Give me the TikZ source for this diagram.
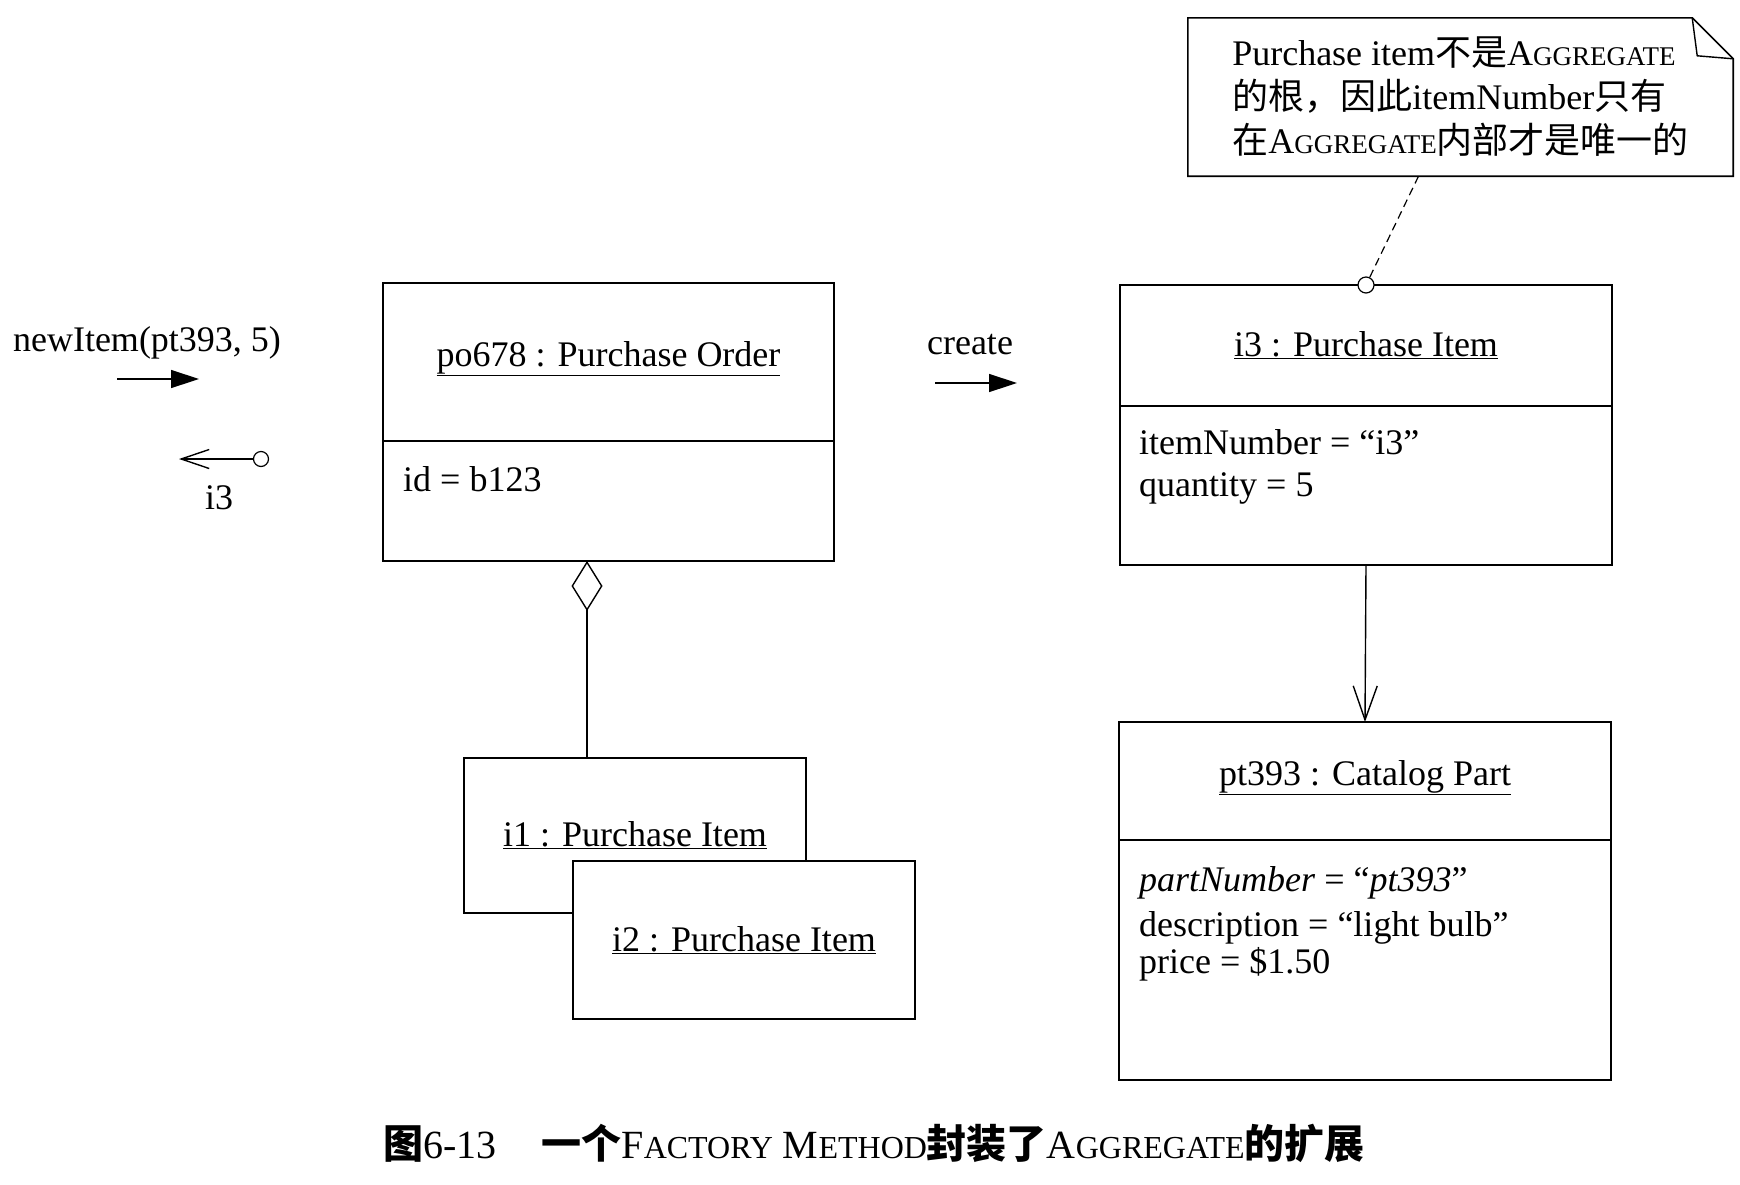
\documentclass[tikz,border=0pt]{standalone}
\usepackage{fontspec}
\setmainfont{Liberation Serif}
\newfontfamily\cjk{Noto Sans CJK SC}
\usepackage{tikz}
\usetikzlibrary{positioning, arrows.meta}
\newcommand\capsw[3][27]{#2{\fontsize{#1}{#1}\selectfont #3}}

\tikzset{
  objbox/.style={draw, line width=1.8pt, outer sep=0pt, fill=white, inner sep=0pt},
  attrtext/.style={anchor=north west, align=left, inner sep=0pt},
  msgarrow/.style={-{Triangle[length=28pt,width=18pt]}, line width=1.4pt},
  openarrow/.style={-{Straight Barb[length=#1]}, line width=1.4pt}
}

\begin{document}
\begin{tikzpicture}[x=1pt, y=-1pt, every node/.style={font=\fontsize{36}{45}\selectfont}]
        \useasboundingbox (0,0) rectangle (1740,1184);

        \node[objbox, minimum width=451, minimum height=158] (po) at (608.5,362) {\raisebox{-4pt}[0pt][0pt]{\underline{po678 : Purchase Order}}};
        \node[objbox, minimum width=451, minimum height=120, below=0pt of po] (poattr) {};
        \node[attrtext] (poid) at ([xshift=20,yshift=-25]poattr.north west) {id = b123};

        \node[objbox, minimum width=492, minimum height=121] (i3) at (1366,345.5) {\underline{i3 : Purchase Item}};
        \node[objbox, minimum width=492, minimum height=159, below=0pt of i3] (i3attr) {};
        \node[attrtext] (i3vals) at ([xshift=19,yshift=-23]i3attr.north west) {itemNumber = “i3”\\[-3pt]quantity = 5};

        \node[objbox, minimum width=492, minimum height=118] (pt) at (1365,781) {\raisebox{-4pt}[0pt][0pt]{\underline{pt393 : Catalog Part}}};
        \node[objbox, minimum width=492, minimum height=240, below=0pt of pt] (ptattr) {};
        \node[attrtext] (ptvals) at ([xshift=20,yshift=-26]ptattr.north west)
            {\textit{partNumber} = “\textit{pt393}”\\description = “light bulb”\\[-8pt]price = \$1.50};

        \node[objbox, minimum width=342, minimum height=155] (i1) at (635,835.5) {\underline{i1 : Purchase Item}};
        \node[objbox, minimum width=342, minimum height=158] (i2) at (744,940) {\underline{i2 : Purchase Item}};

        \coordinate (aggx) at ([xshift=-48]i1.north);
        \draw[{Diamond[open,length=50pt,width=31pt]}-, line width=1.4pt] (aggx |- poattr.south) -- (aggx);

        \draw[openarrow={34pt,width=24pt}] (i3attr.south) -- (pt.north);

        \node[align=left, minimum width=545, minimum height=158, inner sep=0pt, font=\fontsize{36}{44}\selectfont] (note) at (1460.5,97)
            {Purchase item{\cjk 不是}\capsw{A}{GGREGATE}\\
             {\cjk 的根，因此}itemNumber{\cjk 只有}\\
             {\cjk 在}\capsw{A}{GGREGATE}{\cjk 内部才是唯一的}};
        \draw[line width=1.6pt] (note.north west) -- ([xshift=-41]note.north east) -- ([yshift=-41]note.north east)
            -- (note.south east) -- (note.south west) -- cycle;
        \draw[line width=1.4pt] ([xshift=-41]note.north east) -- ++(5,38) -- ([yshift=-41]note.north east);

        \node[circle, draw, fill=white, minimum size=16pt, inner sep=0pt, line width=1.2pt] (pin) at (i3.north) {};
        \draw[line width=1.2pt, dash pattern=on 8pt off 5pt] ([xshift=-42]note.south) -- (pin);

        \node (call) at (147,343) {newItem(pt393, 5)};
        \coordinate (callfrom) at (117,379);
        \coordinate (callto) at (199,379);
        \draw[msgarrow] (callfrom) -- (callto);

        \node[circle, draw, minimum size=15pt, inner sep=0pt, line width=1.2pt] (retdot) at (261,459) {};
        \coordinate (retto) at (179,459);
        \draw[openarrow={28pt,width=19pt}] (retdot) -- (retto);
        \node (ret) at (219,498) {i3};

        \node (create) at (970,345) {create};
        \coordinate (createfrom) at (935,383);
        \coordinate (createto) at (1017,383);
        \draw[msgarrow] (createfrom) -- (createto);

        \node[anchor=west, inner sep=0pt, font=\fontsize{40}{48}\selectfont] (caption) at (383,1143)
            {{\cjk\bfseries 图}6-13\hspace{45pt}{\cjk\bfseries 一个}\capsw[32]{F}{ACTORY} \capsw[32]{M}{ETHOD}{\cjk\bfseries 封装了}\capsw[32]{A}{GGREGATE}{\cjk\bfseries 的扩展}};
\end{tikzpicture}
\end{document}
